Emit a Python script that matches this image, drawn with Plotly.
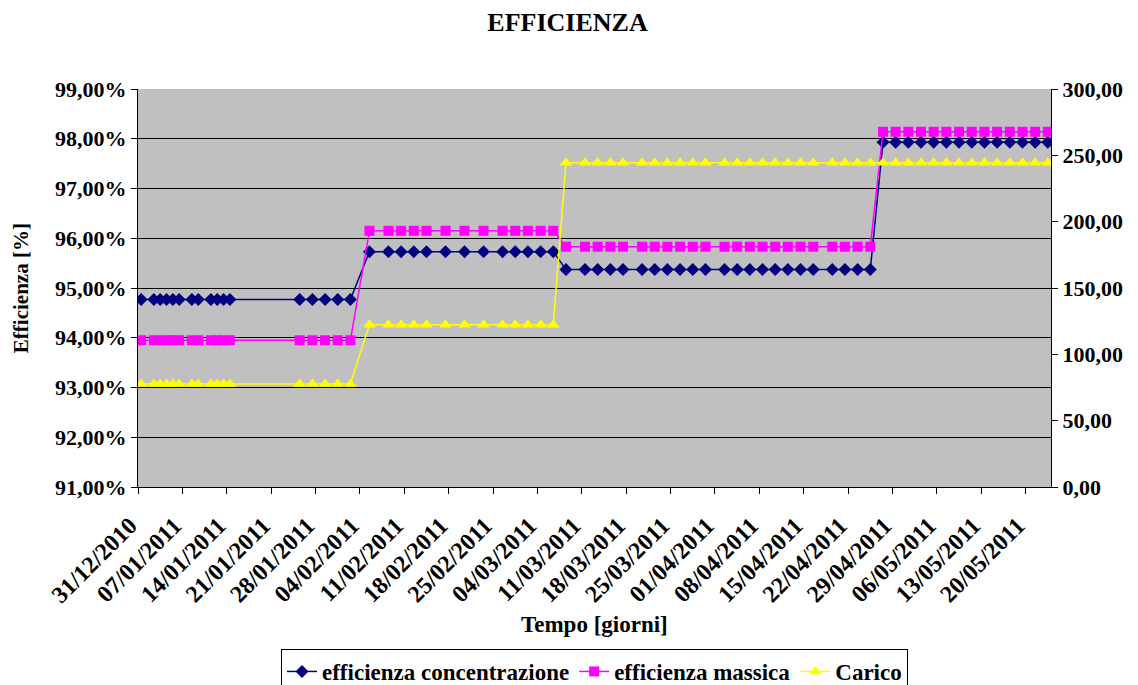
import plotly.graph_objects as go
import pandas as pd

dates = [
    "2010-12-31", "2011-01-02", "2011-01-03", "2011-01-04", "2011-01-05", "2011-01-06",
    "2011-01-08", "2011-01-09", "2011-01-11", "2011-01-12", "2011-01-13", "2011-01-14",
    "2011-01-25", "2011-01-27", "2011-01-29", "2011-01-31", "2011-02-02",
    "2011-02-05", "2011-02-08", "2011-02-10", "2011-02-12", "2011-02-14", "2011-02-17",
    "2011-02-20", "2011-02-23", "2011-02-26", "2011-02-28", "2011-03-02", "2011-03-04",
    "2011-03-06",
    "2011-03-08", "2011-03-11", "2011-03-13", "2011-03-15", "2011-03-17", "2011-03-20",
    "2011-03-22", "2011-03-24", "2011-03-26", "2011-03-28", "2011-03-30", "2011-04-02",
    "2011-04-04", "2011-04-06", "2011-04-08", "2011-04-10", "2011-04-12", "2011-04-14",
    "2011-04-16", "2011-04-19", "2011-04-21", "2011-04-23", "2011-04-25",
    "2011-04-27", "2011-04-29", "2011-05-01", "2011-05-03", "2011-05-05", "2011-05-07",
    "2011-05-09", "2011-05-11", "2011-05-13", "2011-05-15", "2011-05-17", "2011-05-19",
    "2011-05-21", "2011-05-23",
]

eff_concentrazione = [
    0.9477, 0.9477, 0.9477, 0.9477, 0.9477, 0.9477, 0.9477, 0.9477, 0.9477, 0.9477,
    0.9477, 0.9477, 0.9477, 0.9477, 0.9477, 0.9477, 0.9477,
    0.9573, 0.9573, 0.9573, 0.9573, 0.9573, 0.9573, 0.9573, 0.9573, 0.9573, 0.9573,
    0.9573, 0.9573, 0.9573,
    0.9537, 0.9537, 0.9537, 0.9537, 0.9537, 0.9537, 0.9537, 0.9537, 0.9537, 0.9537,
    0.9537, 0.9537, 0.9537, 0.9537, 0.9537, 0.9537, 0.9537, 0.9537, 0.9537, 0.9537,
    0.9537, 0.9537, 0.9537,
    0.9793, 0.9793, 0.9793, 0.9793, 0.9793, 0.9793, 0.9793, 0.9793, 0.9793, 0.9793,
    0.9793, 0.9793, 0.9793, 0.9793,
]

eff_massica = [
    0.9395, 0.9395, 0.9395, 0.9395, 0.9395, 0.9395, 0.9395, 0.9395, 0.9395, 0.9395,
    0.9395, 0.9395, 0.9395, 0.9395, 0.9395, 0.9395, 0.9395,
    0.9615, 0.9615, 0.9615, 0.9615, 0.9615, 0.9615, 0.9615, 0.9615, 0.9615, 0.9615,
    0.9615, 0.9615, 0.9615,
    0.9583, 0.9583, 0.9583, 0.9583, 0.9583, 0.9583, 0.9583, 0.9583, 0.9583, 0.9583,
    0.9583, 0.9583, 0.9583, 0.9583, 0.9583, 0.9583, 0.9583, 0.9583, 0.9583, 0.9583,
    0.9583, 0.9583, 0.9583,
    0.9814, 0.9814, 0.9814, 0.9814, 0.9814, 0.9814, 0.9814, 0.9814, 0.9814, 0.9814,
    0.9814, 0.9814, 0.9814, 0.9814,
]

carico = [
    77.6, 77.6, 77.6, 77.6, 77.6, 77.6, 77.6, 77.6, 77.6, 77.6,
    77.6, 77.6, 77.6, 77.6, 77.6, 77.6, 77.6,
    122.3, 122.3, 122.3, 122.3, 122.3, 122.3, 122.3, 122.3, 122.3, 122.3,
    122.3, 122.3, 122.3,
    244.4, 244.4, 244.4, 244.4, 244.4, 244.4, 244.4, 244.4, 244.4, 244.4,
    244.4, 244.4, 244.4, 244.4, 244.4, 244.4, 244.4, 244.4, 244.4, 244.4,
    244.4, 244.4, 244.4,
    244.4, 244.4, 244.4, 244.4, 244.4, 244.4, 244.4, 244.4, 244.4, 244.4,
    244.4, 244.4, 244.4, 244.4,
]

tick_labels = [
    "31/12/2010", "07/01/2011", "14/01/2011", "21/01/2011", "28/01/2011", "04/02/2011",
    "11/02/2011", "18/02/2011", "25/02/2011", "04/03/2011", "11/03/2011", "18/03/2011",
    "25/03/2011", "01/04/2011", "08/04/2011", "15/04/2011", "22/04/2011", "29/04/2011",
    "06/05/2011", "13/05/2011", "20/05/2011",
]

x = pd.to_datetime(dates)
half_day = pd.Timedelta(hours=12)
tick_dates = pd.to_datetime(tick_labels, format="%d/%m/%Y") - half_day
x_range = [pd.Timestamp("2010-12-31") - half_day, pd.Timestamp("2011-05-24") - half_day]

FONT = "Liberation Serif, Times New Roman, serif"

fig = go.Figure()
fig.add_trace(go.Scatter(
    x=x, y=eff_concentrazione, name="<b>efficienza concentrazione</b>", mode="lines+markers",
    line=dict(color="#000080", width=1.5),
    marker=dict(symbol="diamond", size=10, color="#000080"),
))
fig.add_trace(go.Scatter(
    x=x, y=eff_massica, name="<b>efficienza massica</b>", mode="lines+markers",
    line=dict(color="#FF00FF", width=1.5),
    marker=dict(symbol="square", size=10, color="#FF00FF"),
))
fig.add_trace(go.Scatter(
    x=x, y=carico, name="<b>Carico</b>", mode="lines+markers", yaxis="y2",
    line=dict(color="#FFFF00", width=1.5),
    marker=dict(symbol="triangle-up", size=11, color="#FFFF00"),
))

fig.update_layout(
    width=1138, height=685,
    margin=dict(l=130, r=95, t=81, b=206, autoexpand=False),
    paper_bgcolor="white", plot_bgcolor="#C0C0C0",
    separators=",.",
    font=dict(family=FONT, size=20, color="black"),
    title=dict(text="<b>EFFICIENZA</b>", x=0.4917, xanchor="center", y=0.98, yanchor="middle",
               font=dict(family=FONT, size=26)),
    showlegend=True,
    legend=dict(orientation="h", x=0.5, xanchor="center", y=-0.407, yanchor="top",
                bordercolor="black", borderwidth=1, bgcolor="white",
                font=dict(family=FONT, size=23), itemwidth=30,
                tracegroupgap=0),
    xaxis=dict(
        type="date", range=x_range, tickvals=tick_dates,
        ticktext=["<b>%s</b>" % t for t in tick_labels], tickangle=-45,
        ticks="outside", ticklen=6, tickcolor="black", showgrid=False,
        showline=True, linecolor="black", linewidth=1, mirror=False,
        tickfont=dict(family=FONT, size=24), automargin=False,
        ticklabelstandoff=8, ticklabelshift=-8,
    ),
    yaxis=dict(
        range=[0.91, 0.99], dtick=0.01, tickformat=".2%",
        ticks="outside", ticklen=6, tickcolor="black",
        showgrid=True, gridcolor="black", gridwidth=1,
        showline=True, linecolor="black", linewidth=1,
        tickfont=dict(family=FONT, size=22), tickprefix="<b>", ticksuffix="</b>",
        zeroline=False, automargin=False,
    ),
    yaxis2=dict(
        range=[0, 300], dtick=50, tickformat=".2f", overlaying="y", side="right",
        ticks="outside", ticklen=6, tickcolor="black", showgrid=False,
        showline=True, linecolor="black", linewidth=1,
        tickfont=dict(family=FONT, size=22), tickprefix="<b>", ticksuffix="</b>",
        zeroline=False, automargin=False,
    ),
    annotations=[
        dict(text="<b>Tempo [giorni]</b>", xref="paper", yref="paper", x=0.5, y=-0.345,
             xanchor="center", yanchor="middle", showarrow=False, font=dict(family=FONT, size=23)),
        dict(text="<b>Efficienza [%]</b>", xref="paper", yref="paper", x=-0.128, y=0.5,
             xanchor="center", yanchor="middle", textangle=-90, showarrow=False,
             font=dict(family=FONT, size=21)),
    ],
)

fig.write_html("out.html")
